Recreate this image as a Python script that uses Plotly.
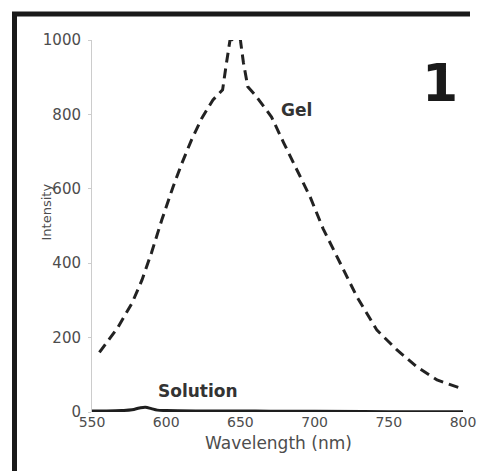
import plotly.graph_objects as go

# Data
gel_wavelength = [555, 567.5, 577, 583.7, 590, 597, 604.6, 610.6, 617, 624, 631.5, 638, 640.5,
                  643, 646.5, 650, 652, 655, 660, 666, 671, 679, 688, 697, 705.7, 717, 728.6,
                  742, 755.5, 769, 782.5, 800]
gel_intensity = [160, 228, 293, 355, 427, 516, 605, 669, 731, 790, 839, 866, 935,
                 1000, 1002, 1000, 940, 874, 852, 820, 793, 725, 650, 578, 493, 400, 309,
                 220, 167, 121, 86, 62]

sol_wavelength = [550, 560, 570, 577, 582, 586, 590, 594, 600, 620, 650, 670, 700, 750, 800]
sol_intensity = [3, 3, 4, 6, 11, 13, 9, 5, 4, 3, 3, 2, 2, 1, 1]

x_ticks = [550, 600, 650, 700, 750, 800]
y_ticks = [0, 200, 400, 600, 800, 1000]

FONT = "DejaVu Sans"
GRAY = "#4d4d4d"

fig = go.Figure()
fig.add_trace(go.Scatter(x=gel_wavelength, y=gel_intensity, mode="lines",
                         line=dict(color="#222222", width=3, dash="10px,6px"),
                         cliponaxis=False, showlegend=False))
fig.add_trace(go.Scatter(x=sol_wavelength, y=sol_intensity, mode="lines",
                         line=dict(color="#1e1e1e", width=3, shape="spline"),
                         cliponaxis=False, showlegend=False))

W, H = 478, 471
L, R, T, B = 92, 15, 40, 59
pw, ph = W - L - R, H - T - B

def px(xp):
    return (xp - L) / pw

def py(yp):
    return (H - B - yp) / ph

fig.update_layout(
    width=W, height=H,
    margin=dict(l=L, r=R, t=T, b=B, autoexpand=False),
    paper_bgcolor="white", plot_bgcolor="white",
    font=dict(family=FONT, color=GRAY, size=14),
    xaxis=dict(range=[550, 800], tickvals=x_ticks, ticks="", showgrid=False,
               zeroline=False, showline=False, automargin=False,
               tickfont=dict(size=14, color=GRAY)),
    yaxis=dict(range=[0, 1000], tickvals=y_ticks, ticks="outside", ticklen=3,
               tickcolor="#cccccc", showgrid=False, zeroline=False, automargin=False,
               showline=True, linecolor="#cccccc", linewidth=1,
               tickfont=dict(size=15, color=GRAY), ticklabelstandoff=4),
    annotations=[
        dict(text="Gel", x=687.5, y=812, xref="x", yref="y", showarrow=False,
             font=dict(family=FONT, size=17, color="#333333", weight="bold")),
        dict(text="Solution", x=621.4, y=56, xref="x", yref="y", showarrow=False,
             font=dict(family=FONT, size=17, color="#333333", weight="bold")),
        dict(text="1", x=px(460), y=py(51), xref="paper", yref="paper", showarrow=False,
             font=dict(family=FONT, size=52, color="#1a1a1a", weight="bold")),
        dict(text="Wavelength (nm)", x=px(278), y=py(455), xref="paper", yref="paper",
             showarrow=False, font=dict(family=FONT, size=17, color=GRAY)),
        dict(text="Intensity", x=px(36), y=py(212), xref="paper", yref="paper",
             showarrow=False, textangle=-90, font=dict(family=FONT, size=13, color=GRAY)),
    ],
    shapes=[
        dict(type="line", xref="paper", yref="paper", x0=px(14.5), x1=px(14.5),
             y0=py(12), y1=py(475), line=dict(color="#1a1a1a", width=5)),
        dict(type="line", xref="paper", yref="paper", x0=px(12), x1=px(470),
             y0=py(14), y1=py(14), line=dict(color="#1a1a1a", width=5)),
    ],
)

fig.write_html("out.html")
